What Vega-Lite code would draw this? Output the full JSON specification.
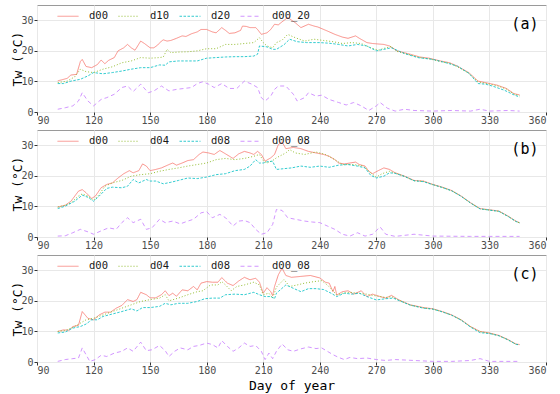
{
"$schema":"https://vega.github.io/schema/vega-lite/v6.json",
"padding":{"left":11,"top":4,"right":3,"bottom":2},
"bounds":"flush",
"spacing":18,
"config":{
 "font":"DejaVu Sans Mono",
 "view":{"stroke":"#9a9a9a","strokeWidth":1},
 "axis":{"labelFont":"DejaVu Sans Mono","labelFontSize":10,"labelColor":"#4d4d4d","titleFont":"DejaVu Sans Mono","titleFontSize":13,"titleFontWeight":"normal","titleColor":"#000000","gridColor":"#e8e8e8","tickColor":"#333333","tickSize":3,"domain":false,"labelPadding":1},
 "axisY":{"titlePadding":-4},
 "axisX":{"titlePadding":4,"labelPadding":0},
 "legend":{"labelFont":"DejaVu Sans Mono","labelFontSize":10.5,"labelColor":"#1a1a1a","symbolType":"stroke","symbolSize":441,"symbolStrokeWidth":1,"labelOffset":10,"columnPadding":8}
},
"datasets":{
"a":[
{"day":101,"series":"d00","tw":10.2},{"day":103,"series":"d00","tw":10.5},{"day":106,"series":"d00","tw":11},{"day":108,"series":"d00","tw":12.1},{"day":111,"series":"d00","tw":12.3},{"day":113,"series":"d00","tw":16.5},{"day":114,"series":"d00","tw":17.2},{"day":116,"series":"d00","tw":14.9},{"day":119,"series":"d00","tw":14.5},{"day":122,"series":"d00","tw":15.5},{"day":124,"series":"d00","tw":17},{"day":126,"series":"d00","tw":15.8},{"day":128,"series":"d00","tw":16.9},{"day":131,"series":"d00","tw":17.8},{"day":133,"series":"d00","tw":20},{"day":136,"series":"d00","tw":21},{"day":138,"series":"d00","tw":22.1},{"day":140,"series":"d00","tw":21},{"day":142,"series":"d00","tw":20.2},{"day":145,"series":"d00","tw":23.2},{"day":147,"series":"d00","tw":22.4},{"day":150,"series":"d00","tw":21},{"day":152,"series":"d00","tw":21},{"day":154,"series":"d00","tw":21.9},{"day":156,"series":"d00","tw":23.2},{"day":157,"series":"d00","tw":23.6},{"day":159,"series":"d00","tw":23.2},{"day":161,"series":"d00","tw":23.4},{"day":164,"series":"d00","tw":24.1},{"day":167,"series":"d00","tw":24.9},{"day":169,"series":"d00","tw":24.7},{"day":172,"series":"d00","tw":25.6},{"day":175,"series":"d00","tw":26.2},{"day":177,"series":"d00","tw":27},{"day":180,"series":"d00","tw":27},{"day":183,"series":"d00","tw":26.2},{"day":185,"series":"d00","tw":25.9},{"day":188,"series":"d00","tw":27.6},{"day":190,"series":"d00","tw":26.7},{"day":192,"series":"d00","tw":25.7},{"day":195,"series":"d00","tw":25.9},{"day":198,"series":"d00","tw":26.7},{"day":199,"series":"d00","tw":28.1},{"day":201,"series":"d00","tw":28},{"day":203,"series":"d00","tw":27.6},{"day":206,"series":"d00","tw":27.6},{"day":207,"series":"d00","tw":27},{"day":209,"series":"d00","tw":25.4},{"day":212,"series":"d00","tw":25.9},{"day":214,"series":"d00","tw":27},{"day":216,"series":"d00","tw":28.7},{"day":218,"series":"d00","tw":28.5},{"day":220,"series":"d00","tw":29.5},{"day":223,"series":"d00","tw":30.9},{"day":227,"series":"d00","tw":29.2},{"day":230,"series":"d00","tw":27.6},{"day":234,"series":"d00","tw":28.7},{"day":237,"series":"d00","tw":28.1},{"day":239,"series":"d00","tw":27.8},{"day":244,"series":"d00","tw":26.5},{"day":248,"series":"d00","tw":25.4},{"day":252,"series":"d00","tw":24.5},{"day":255,"series":"d00","tw":24.1},{"day":259,"series":"d00","tw":24.9},{"day":261,"series":"d00","tw":24.1},{"day":265,"series":"d00","tw":22.7},{"day":268,"series":"d00","tw":22.4},{"day":274,"series":"d00","tw":22.1},{"day":277,"series":"d00","tw":21.6},{"day":281,"series":"d00","tw":20},{"day":288,"series":"d00","tw":18.9},{"day":293,"series":"d00","tw":18},{"day":298,"series":"d00","tw":17.6},{"day":304,"series":"d00","tw":16.7},{"day":309,"series":"d00","tw":16.1},{"day":313,"series":"d00","tw":15},{"day":319,"series":"d00","tw":12.9},{"day":324,"series":"d00","tw":10.1},{"day":328,"series":"d00","tw":9.6},{"day":334,"series":"d00","tw":8.8},{"day":339,"series":"d00","tw":7.7},{"day":343,"series":"d00","tw":6},{"day":346,"series":"d00","tw":5.6},
{"day":101,"series":"d10","tw":9.6},{"day":106,"series":"d10","tw":10.1},{"day":110,"series":"d10","tw":11.5},{"day":113,"series":"d10","tw":14},{"day":116,"series":"d10","tw":13.2},{"day":120,"series":"d10","tw":12.9},{"day":125,"series":"d10","tw":14},{"day":130,"series":"d10","tw":14.8},{"day":135,"series":"d10","tw":16.1},{"day":140,"series":"d10","tw":16.7},{"day":145,"series":"d10","tw":17.8},{"day":150,"series":"d10","tw":17.6},{"day":155,"series":"d10","tw":17.8},{"day":157,"series":"d10","tw":18},{"day":159,"series":"d10","tw":20.5},{"day":161,"series":"d10","tw":19.4},{"day":165,"series":"d10","tw":19.6},{"day":170,"series":"d10","tw":19.7},{"day":175,"series":"d10","tw":20},{"day":180,"series":"d10","tw":20.7},{"day":185,"series":"d10","tw":20.7},{"day":190,"series":"d10","tw":22.1},{"day":195,"series":"d10","tw":22.1},{"day":200,"series":"d10","tw":22.4},{"day":205,"series":"d10","tw":22.7},{"day":208,"series":"d10","tw":24.3},{"day":210,"series":"d10","tw":22.7},{"day":212,"series":"d10","tw":21.6},{"day":215,"series":"d10","tw":21},{"day":217,"series":"d10","tw":22.7},{"day":220,"series":"d10","tw":23.5},{"day":223,"series":"d10","tw":25.4},{"day":227,"series":"d10","tw":24.3},{"day":232,"series":"d10","tw":23.2},{"day":237,"series":"d10","tw":23.8},{"day":242,"series":"d10","tw":23.4},{"day":247,"series":"d10","tw":23},{"day":252,"series":"d10","tw":22.4},{"day":257,"series":"d10","tw":22.7},{"day":262,"series":"d10","tw":22.4},{"day":267,"series":"d10","tw":21},{"day":271,"series":"d10","tw":20.2},{"day":275,"series":"d10","tw":21},{"day":278,"series":"d10","tw":21.4},{"day":281,"series":"d10","tw":19.8},{"day":288,"series":"d10","tw":18.7},{"day":293,"series":"d10","tw":17.8},{"day":298,"series":"d10","tw":17.4},{"day":304,"series":"d10","tw":16.5},{"day":309,"series":"d10","tw":15.9},{"day":313,"series":"d10","tw":14.8},{"day":319,"series":"d10","tw":12.7},{"day":324,"series":"d10","tw":9.8},{"day":328,"series":"d10","tw":9.4},{"day":334,"series":"d10","tw":8.6},{"day":339,"series":"d10","tw":7.5},{"day":343,"series":"d10","tw":5.9},{"day":346,"series":"d10","tw":5.3},
{"day":101,"series":"d20","tw":9.3},{"day":104,"series":"d20","tw":9.3},{"day":108,"series":"d20","tw":10.1},{"day":113,"series":"d20","tw":10.7},{"day":117,"series":"d20","tw":11.8},{"day":120,"series":"d20","tw":12.9},{"day":125,"series":"d20","tw":12.5},{"day":130,"series":"d20","tw":12.9},{"day":135,"series":"d20","tw":13.4},{"day":140,"series":"d20","tw":14},{"day":145,"series":"d20","tw":14.5},{"day":150,"series":"d20","tw":14.5},{"day":155,"series":"d20","tw":15.4},{"day":158,"series":"d20","tw":15.3},{"day":160,"series":"d20","tw":16.4},{"day":165,"series":"d20","tw":16.7},{"day":170,"series":"d20","tw":16.7},{"day":175,"series":"d20","tw":16.7},{"day":180,"series":"d20","tw":17.6},{"day":185,"series":"d20","tw":17.8},{"day":190,"series":"d20","tw":18},{"day":195,"series":"d20","tw":18.1},{"day":200,"series":"d20","tw":18.1},{"day":205,"series":"d20","tw":18.3},{"day":207,"series":"d20","tw":18.9},{"day":208,"series":"d20","tw":21.6},{"day":212,"series":"d20","tw":21.3},{"day":215,"series":"d20","tw":20.5},{"day":217,"series":"d20","tw":20.5},{"day":221,"series":"d20","tw":22},{"day":224,"series":"d20","tw":23.8},{"day":228,"series":"d20","tw":23},{"day":233,"series":"d20","tw":22.7},{"day":240,"series":"d20","tw":22.7},{"day":245,"series":"d20","tw":22.5},{"day":250,"series":"d20","tw":22.1},{"day":255,"series":"d20","tw":21.6},{"day":260,"series":"d20","tw":22.1},{"day":265,"series":"d20","tw":21.6},{"day":270,"series":"d20","tw":20},{"day":274,"series":"d20","tw":20.5},{"day":278,"series":"d20","tw":21},{"day":285,"series":"d20","tw":19.1},{"day":292,"series":"d20","tw":17.8},{"day":300,"series":"d20","tw":17.2},{"day":307,"series":"d20","tw":16.1},{"day":313,"series":"d20","tw":15},{"day":319,"series":"d20","tw":12.7},{"day":324,"series":"d20","tw":9.3},{"day":328,"series":"d20","tw":9.1},{"day":332,"series":"d20","tw":8.4},{"day":338,"series":"d20","tw":7.1},{"day":343,"series":"d20","tw":5.6},{"day":346,"series":"d20","tw":4.9},
{"day":101,"series":"d00_20","tw":0.9},{"day":105,"series":"d00_20","tw":1.4},{"day":109,"series":"d00_20","tw":2},{"day":112,"series":"d00_20","tw":3.6},{"day":114,"series":"d00_20","tw":6.3},{"day":117,"series":"d00_20","tw":3.6},{"day":120,"series":"d00_20","tw":2},{"day":124,"series":"d00_20","tw":4.1},{"day":127,"series":"d00_20","tw":4.7},{"day":131,"series":"d00_20","tw":5.8},{"day":135,"series":"d00_20","tw":8},{"day":138,"series":"d00_20","tw":8.5},{"day":141,"series":"d00_20","tw":6.7},{"day":145,"series":"d00_20","tw":9.1},{"day":149,"series":"d00_20","tw":6.3},{"day":152,"series":"d00_20","tw":6.9},{"day":156,"series":"d00_20","tw":8.5},{"day":160,"series":"d00_20","tw":6.9},{"day":164,"series":"d00_20","tw":7.4},{"day":168,"series":"d00_20","tw":7.7},{"day":172,"series":"d00_20","tw":8},{"day":175,"series":"d00_20","tw":9.3},{"day":178,"series":"d00_20","tw":9.9},{"day":181,"series":"d00_20","tw":9.1},{"day":184,"series":"d00_20","tw":8},{"day":188,"series":"d00_20","tw":9.3},{"day":192,"series":"d00_20","tw":7.7},{"day":196,"series":"d00_20","tw":7.7},{"day":200,"series":"d00_20","tw":10.1},{"day":204,"series":"d00_20","tw":9.1},{"day":207,"series":"d00_20","tw":8},{"day":209,"series":"d00_20","tw":4.7},{"day":211,"series":"d00_20","tw":3.6},{"day":214,"series":"d00_20","tw":5.2},{"day":216,"series":"d00_20","tw":7.4},{"day":218,"series":"d00_20","tw":8.5},{"day":222,"series":"d00_20","tw":8.5},{"day":226,"series":"d00_20","tw":5.8},{"day":228,"series":"d00_20","tw":3.6},{"day":232,"series":"d00_20","tw":4.7},{"day":234,"series":"d00_20","tw":6.3},{"day":238,"series":"d00_20","tw":5.2},{"day":241,"series":"d00_20","tw":5.5},{"day":245,"series":"d00_20","tw":4.1},{"day":250,"series":"d00_20","tw":3.1},{"day":254,"series":"d00_20","tw":2.3},{"day":258,"series":"d00_20","tw":3.1},{"day":262,"series":"d00_20","tw":2},{"day":266,"series":"d00_20","tw":0.5},{"day":270,"series":"d00_20","tw":2},{"day":272,"series":"d00_20","tw":3.1},{"day":276,"series":"d00_20","tw":1.2},{"day":280,"series":"d00_20","tw":0.3},{"day":285,"series":"d00_20","tw":0.9},{"day":290,"series":"d00_20","tw":0.5},{"day":300,"series":"d00_20","tw":0.3},{"day":310,"series":"d00_20","tw":0.5},{"day":320,"series":"d00_20","tw":0.3},{"day":325,"series":"d00_20","tw":0.9},{"day":330,"series":"d00_20","tw":0.3},{"day":340,"series":"d00_20","tw":0.5},{"day":346,"series":"d00_20","tw":0.3}
],
"b":[
{"day":101,"series":"d00","tw":9.8},{"day":105,"series":"d00","tw":10.4},{"day":108,"series":"d00","tw":11.7},{"day":112,"series":"d00","tw":15},{"day":114,"series":"d00","tw":15.5},{"day":116,"series":"d00","tw":14.5},{"day":119,"series":"d00","tw":12.6},{"day":121,"series":"d00","tw":13.4},{"day":124,"series":"d00","tw":16.1},{"day":127,"series":"d00","tw":17.2},{"day":130,"series":"d00","tw":17.7},{"day":133,"series":"d00","tw":19.3},{"day":136,"series":"d00","tw":20.7},{"day":139,"series":"d00","tw":21.7},{"day":141,"series":"d00","tw":21},{"day":144,"series":"d00","tw":21.7},{"day":146,"series":"d00","tw":23.9},{"day":148,"series":"d00","tw":23.2},{"day":150,"series":"d00","tw":21.7},{"day":153,"series":"d00","tw":22.1},{"day":156,"series":"d00","tw":22.6},{"day":160,"series":"d00","tw":23.7},{"day":162,"series":"d00","tw":24.2},{"day":164,"series":"d00","tw":23.5},{"day":167,"series":"d00","tw":24.2},{"day":170,"series":"d00","tw":25},{"day":173,"series":"d00","tw":25.3},{"day":176,"series":"d00","tw":27},{"day":178,"series":"d00","tw":27.8},{"day":181,"series":"d00","tw":27.5},{"day":184,"series":"d00","tw":27},{"day":187,"series":"d00","tw":28.3},{"day":190,"series":"d00","tw":27.2},{"day":194,"series":"d00","tw":25.7},{"day":197,"series":"d00","tw":27.2},{"day":200,"series":"d00","tw":28},{"day":203,"series":"d00","tw":27.5},{"day":205,"series":"d00","tw":27},{"day":207,"series":"d00","tw":28},{"day":209,"series":"d00","tw":27},{"day":211,"series":"d00","tw":24.8},{"day":214,"series":"d00","tw":25.9},{"day":216,"series":"d00","tw":27},{"day":218,"series":"d00","tw":30.2},{"day":220,"series":"d00","tw":31.1},{"day":222,"series":"d00","tw":28.9},{"day":226,"series":"d00","tw":29.3},{"day":230,"series":"d00","tw":28.9},{"day":234,"series":"d00","tw":28},{"day":238,"series":"d00","tw":27.5},{"day":242,"series":"d00","tw":27},{"day":245,"series":"d00","tw":26.4},{"day":248,"series":"d00","tw":25.3},{"day":250,"series":"d00","tw":24.2},{"day":253,"series":"d00","tw":23.9},{"day":256,"series":"d00","tw":24.2},{"day":259,"series":"d00","tw":24.5},{"day":261,"series":"d00","tw":23.7},{"day":264,"series":"d00","tw":23.2},{"day":266,"series":"d00","tw":21.5},{"day":268,"series":"d00","tw":20.7},{"day":271,"series":"d00","tw":21.7},{"day":274,"series":"d00","tw":22.6},{"day":277,"series":"d00","tw":22.1},{"day":280,"series":"d00","tw":21},{"day":285,"series":"d00","tw":19.9},{"day":290,"series":"d00","tw":18.5},{"day":295,"series":"d00","tw":18.3},{"day":300,"series":"d00","tw":17.2},{"day":305,"series":"d00","tw":16.3},{"day":310,"series":"d00","tw":15.2},{"day":315,"series":"d00","tw":13.4},{"day":320,"series":"d00","tw":11.2},{"day":325,"series":"d00","tw":9.3},{"day":330,"series":"d00","tw":8.9},{"day":335,"series":"d00","tw":8.5},{"day":340,"series":"d00","tw":6.8},{"day":344,"series":"d00","tw":5.2},{"day":346,"series":"d00","tw":4.7},
{"day":101,"series":"d04","tw":9.8},{"day":105,"series":"d04","tw":10.4},{"day":108,"series":"d04","tw":11.2},{"day":112,"series":"d04","tw":13.4},{"day":114,"series":"d04","tw":14.1},{"day":117,"series":"d04","tw":13.4},{"day":120,"series":"d04","tw":12},{"day":123,"series":"d04","tw":13.9},{"day":126,"series":"d04","tw":16.6},{"day":130,"series":"d04","tw":17.7},{"day":135,"series":"d04","tw":18.5},{"day":140,"series":"d04","tw":19.9},{"day":145,"series":"d04","tw":20.4},{"day":150,"series":"d04","tw":20.7},{"day":155,"series":"d04","tw":21.5},{"day":160,"series":"d04","tw":22.1},{"day":165,"series":"d04","tw":22.6},{"day":170,"series":"d04","tw":23.2},{"day":175,"series":"d04","tw":23.7},{"day":180,"series":"d04","tw":24.2},{"day":185,"series":"d04","tw":25.3},{"day":190,"series":"d04","tw":25.7},{"day":195,"series":"d04","tw":25.3},{"day":200,"series":"d04","tw":25.7},{"day":205,"series":"d04","tw":26.4},{"day":208,"series":"d04","tw":27},{"day":210,"series":"d04","tw":25},{"day":212,"series":"d04","tw":24.2},{"day":215,"series":"d04","tw":25},{"day":217,"series":"d04","tw":25.9},{"day":222,"series":"d04","tw":27.5},{"day":224,"series":"d04","tw":28.6},{"day":227,"series":"d04","tw":27.5},{"day":232,"series":"d04","tw":27},{"day":238,"series":"d04","tw":27.8},{"day":243,"series":"d04","tw":27},{"day":248,"series":"d04","tw":25.3},{"day":252,"series":"d04","tw":23.7},{"day":258,"series":"d04","tw":23.7},{"day":263,"series":"d04","tw":23.2},{"day":267,"series":"d04","tw":21},{"day":270,"series":"d04","tw":19.6},{"day":273,"series":"d04","tw":20.7},{"day":277,"series":"d04","tw":21.5},{"day":280,"series":"d04","tw":20.9},{"day":285,"series":"d04","tw":19.8},{"day":290,"series":"d04","tw":18.4},{"day":295,"series":"d04","tw":18.2},{"day":300,"series":"d04","tw":17.1},{"day":305,"series":"d04","tw":16.2},{"day":310,"series":"d04","tw":15.1},{"day":315,"series":"d04","tw":13.3},{"day":320,"series":"d04","tw":11.1},{"day":325,"series":"d04","tw":9.2},{"day":330,"series":"d04","tw":8.8},{"day":335,"series":"d04","tw":8.4},{"day":340,"series":"d04","tw":6.7},{"day":344,"series":"d04","tw":5.1},{"day":346,"series":"d04","tw":4.6},
{"day":101,"series":"d08","tw":9.3},{"day":105,"series":"d08","tw":10.1},{"day":110,"series":"d08","tw":11.7},{"day":114,"series":"d08","tw":13.7},{"day":117,"series":"d08","tw":13},{"day":120,"series":"d08","tw":11.7},{"day":123,"series":"d08","tw":13.4},{"day":127,"series":"d08","tw":15.9},{"day":130,"series":"d08","tw":16.3},{"day":135,"series":"d08","tw":16.1},{"day":138,"series":"d08","tw":16.6},{"day":141,"series":"d08","tw":18.8},{"day":144,"series":"d08","tw":17.7},{"day":148,"series":"d08","tw":18.8},{"day":150,"series":"d08","tw":18.3},{"day":153,"series":"d08","tw":18.3},{"day":157,"series":"d08","tw":17.4},{"day":161,"series":"d08","tw":17.9},{"day":165,"series":"d08","tw":18.5},{"day":170,"series":"d08","tw":19.3},{"day":175,"series":"d08","tw":19.1},{"day":180,"series":"d08","tw":19.6},{"day":185,"series":"d08","tw":20.4},{"day":190,"series":"d08","tw":20.7},{"day":195,"series":"d08","tw":21.7},{"day":200,"series":"d08","tw":22.1},{"day":203,"series":"d08","tw":23.2},{"day":206,"series":"d08","tw":25.3},{"day":208,"series":"d08","tw":24.2},{"day":210,"series":"d08","tw":24.2},{"day":212,"series":"d08","tw":24.6},{"day":215,"series":"d08","tw":24.8},{"day":217,"series":"d08","tw":22.1},{"day":225,"series":"d08","tw":22.6},{"day":230,"series":"d08","tw":23.2},{"day":235,"series":"d08","tw":22.8},{"day":240,"series":"d08","tw":23.2},{"day":245,"series":"d08","tw":22.8},{"day":250,"series":"d08","tw":23.5},{"day":255,"series":"d08","tw":23.7},{"day":260,"series":"d08","tw":23.2},{"day":264,"series":"d08","tw":22.6},{"day":267,"series":"d08","tw":20.2},{"day":270,"series":"d08","tw":19.3},{"day":274,"series":"d08","tw":19.9},{"day":277,"series":"d08","tw":21},{"day":280,"series":"d08","tw":20.8},{"day":285,"series":"d08","tw":19.8},{"day":290,"series":"d08","tw":18.4},{"day":295,"series":"d08","tw":18.1},{"day":300,"series":"d08","tw":17.1},{"day":305,"series":"d08","tw":16.2},{"day":310,"series":"d08","tw":15.1},{"day":315,"series":"d08","tw":13.3},{"day":320,"series":"d08","tw":11.1},{"day":325,"series":"d08","tw":9.2},{"day":330,"series":"d08","tw":8.8},{"day":335,"series":"d08","tw":8.4},{"day":340,"series":"d08","tw":6.7},{"day":344,"series":"d08","tw":5.1},{"day":346,"series":"d08","tw":4.6},
{"day":101,"series":"d00_08","tw":0.3},{"day":105,"series":"d00_08","tw":0.4},{"day":109,"series":"d00_08","tw":1.4},{"day":113,"series":"d00_08","tw":2.5},{"day":117,"series":"d00_08","tw":1.7},{"day":120,"series":"d00_08","tw":0.9},{"day":124,"series":"d00_08","tw":2},{"day":128,"series":"d00_08","tw":3},{"day":132,"series":"d00_08","tw":2.5},{"day":135,"series":"d00_08","tw":4.7},{"day":138,"series":"d00_08","tw":6.3},{"day":141,"series":"d00_08","tw":4.7},{"day":145,"series":"d00_08","tw":5.8},{"day":148,"series":"d00_08","tw":2.5},{"day":151,"series":"d00_08","tw":3},{"day":155,"series":"d00_08","tw":5.8},{"day":158,"series":"d00_08","tw":4.7},{"day":162,"series":"d00_08","tw":5.2},{"day":166,"series":"d00_08","tw":4.3},{"day":170,"series":"d00_08","tw":5.2},{"day":173,"series":"d00_08","tw":5.8},{"day":177,"series":"d00_08","tw":7.9},{"day":180,"series":"d00_08","tw":8.3},{"day":183,"series":"d00_08","tw":6.3},{"day":187,"series":"d00_08","tw":7.4},{"day":190,"series":"d00_08","tw":6.3},{"day":194,"series":"d00_08","tw":3.6},{"day":197,"series":"d00_08","tw":5.2},{"day":200,"series":"d00_08","tw":5.4},{"day":203,"series":"d00_08","tw":4.7},{"day":206,"series":"d00_08","tw":2.5},{"day":209,"series":"d00_08","tw":0.9},{"day":212,"series":"d00_08","tw":1.4},{"day":215,"series":"d00_08","tw":4.1},{"day":217,"series":"d00_08","tw":9},{"day":220,"series":"d00_08","tw":8.7},{"day":223,"series":"d00_08","tw":6.3},{"day":227,"series":"d00_08","tw":5.8},{"day":232,"series":"d00_08","tw":5.2},{"day":236,"series":"d00_08","tw":4.9},{"day":240,"series":"d00_08","tw":4.7},{"day":244,"series":"d00_08","tw":3.6},{"day":248,"series":"d00_08","tw":2.5},{"day":252,"series":"d00_08","tw":0.9},{"day":256,"series":"d00_08","tw":0.3},{"day":260,"series":"d00_08","tw":1.4},{"day":264,"series":"d00_08","tw":0.3},{"day":268,"series":"d00_08","tw":0.9},{"day":272,"series":"d00_08","tw":3.3},{"day":275,"series":"d00_08","tw":0.9},{"day":280,"series":"d00_08","tw":0.2},{"day":290,"series":"d00_08","tw":0.9},{"day":300,"series":"d00_08","tw":0.3},{"day":320,"series":"d00_08","tw":0.2},{"day":346,"series":"d00_08","tw":0.2}
],
"c":[
{"day":101,"series":"d00","tw":10},{"day":104,"series":"d00","tw":10.5},{"day":107,"series":"d00","tw":10.4},{"day":109,"series":"d00","tw":11.6},{"day":112,"series":"d00","tw":12},{"day":114,"series":"d00","tw":16.5},{"day":117,"series":"d00","tw":14.3},{"day":120,"series":"d00","tw":13.8},{"day":123,"series":"d00","tw":15.4},{"day":126,"series":"d00","tw":16.3},{"day":129,"series":"d00","tw":16.3},{"day":132,"series":"d00","tw":17.6},{"day":135,"series":"d00","tw":18.5},{"day":138,"series":"d00","tw":20.4},{"day":141,"series":"d00","tw":19.8},{"day":143,"series":"d00","tw":20.4},{"day":145,"series":"d00","tw":22.8},{"day":148,"series":"d00","tw":22},{"day":150,"series":"d00","tw":21},{"day":153,"series":"d00","tw":21},{"day":156,"series":"d00","tw":22},{"day":158,"series":"d00","tw":23.3},{"day":160,"series":"d00","tw":21.7},{"day":162,"series":"d00","tw":22.5},{"day":164,"series":"d00","tw":21.5},{"day":167,"series":"d00","tw":23.6},{"day":170,"series":"d00","tw":23.3},{"day":173,"series":"d00","tw":24.7},{"day":175,"series":"d00","tw":23.6},{"day":177,"series":"d00","tw":25.8},{"day":180,"series":"d00","tw":26.3},{"day":183,"series":"d00","tw":26.1},{"day":186,"series":"d00","tw":26.1},{"day":188,"series":"d00","tw":27.6},{"day":191,"series":"d00","tw":25.8},{"day":194,"series":"d00","tw":25},{"day":197,"series":"d00","tw":26.5},{"day":200,"series":"d00","tw":27.7},{"day":203,"series":"d00","tw":26.9},{"day":206,"series":"d00","tw":27.4},{"day":208,"series":"d00","tw":26.1},{"day":210,"series":"d00","tw":22.5},{"day":212,"series":"d00","tw":24.3},{"day":214,"series":"d00","tw":23},{"day":215,"series":"d00","tw":21.7},{"day":216,"series":"d00","tw":24.7},{"day":218,"series":"d00","tw":28.5},{"day":220,"series":"d00","tw":30.7},{"day":222,"series":"d00","tw":28.3},{"day":225,"series":"d00","tw":27.7},{"day":230,"series":"d00","tw":28},{"day":235,"series":"d00","tw":28.3},{"day":240,"series":"d00","tw":27.5},{"day":243,"series":"d00","tw":26.1},{"day":245,"series":"d00","tw":25.8},{"day":247,"series":"d00","tw":23},{"day":248,"series":"d00","tw":24.7},{"day":249,"series":"d00","tw":21.9},{"day":252,"series":"d00","tw":23},{"day":255,"series":"d00","tw":23.3},{"day":258,"series":"d00","tw":22.2},{"day":262,"series":"d00","tw":23.3},{"day":265,"series":"d00","tw":21.4},{"day":268,"series":"d00","tw":22.2},{"day":272,"series":"d00","tw":21.4},{"day":275,"series":"d00","tw":20.9},{"day":278,"series":"d00","tw":21.8},{"day":282,"series":"d00","tw":20.3},{"day":288,"series":"d00","tw":18.7},{"day":295,"series":"d00","tw":17.8},{"day":300,"series":"d00","tw":17.4},{"day":305,"series":"d00","tw":16.5},{"day":310,"series":"d00","tw":15.4},{"day":315,"series":"d00","tw":13.8},{"day":320,"series":"d00","tw":11.6},{"day":325,"series":"d00","tw":10},{"day":330,"series":"d00","tw":9.5},{"day":335,"series":"d00","tw":8.7},{"day":340,"series":"d00","tw":7.3},{"day":344,"series":"d00","tw":5.9},{"day":346,"series":"d00","tw":5.7},
{"day":101,"series":"d04","tw":10},{"day":105,"series":"d04","tw":10.3},{"day":109,"series":"d04","tw":11.3},{"day":113,"series":"d04","tw":12.7},{"day":116,"series":"d04","tw":13.8},{"day":120,"series":"d04","tw":14.3},{"day":125,"series":"d04","tw":15.4},{"day":130,"series":"d04","tw":16.5},{"day":135,"series":"d04","tw":17.6},{"day":140,"series":"d04","tw":18.7},{"day":145,"series":"d04","tw":19.8},{"day":150,"series":"d04","tw":20.4},{"day":155,"series":"d04","tw":20.9},{"day":158,"series":"d04","tw":22},{"day":160,"series":"d04","tw":20},{"day":165,"series":"d04","tw":20.9},{"day":170,"series":"d04","tw":22},{"day":175,"series":"d04","tw":23},{"day":178,"series":"d04","tw":23.3},{"day":182,"series":"d04","tw":25.2},{"day":186,"series":"d04","tw":25.2},{"day":188,"series":"d04","tw":26.3},{"day":190,"series":"d04","tw":25.2},{"day":193,"series":"d04","tw":23.3},{"day":196,"series":"d04","tw":24.7},{"day":200,"series":"d04","tw":25.2},{"day":205,"series":"d04","tw":26.1},{"day":208,"series":"d04","tw":25.2},{"day":210,"series":"d04","tw":22},{"day":213,"series":"d04","tw":22.5},{"day":215,"series":"d04","tw":20.9},{"day":217,"series":"d04","tw":24.5},{"day":221,"series":"d04","tw":27},{"day":224,"series":"d04","tw":24.7},{"day":228,"series":"d04","tw":25.2},{"day":232,"series":"d04","tw":25.8},{"day":237,"series":"d04","tw":26.3},{"day":241,"series":"d04","tw":26.6},{"day":244,"series":"d04","tw":25.2},{"day":247,"series":"d04","tw":23.3},{"day":249,"series":"d04","tw":21.9},{"day":252,"series":"d04","tw":22.5},{"day":256,"series":"d04","tw":22.8},{"day":260,"series":"d04","tw":22.5},{"day":265,"series":"d04","tw":22.2},{"day":268,"series":"d04","tw":21.8},{"day":275,"series":"d04","tw":21.1},{"day":278,"series":"d04","tw":21.4},{"day":282,"series":"d04","tw":20.2},{"day":288,"series":"d04","tw":18.6},{"day":295,"series":"d04","tw":17.7},{"day":300,"series":"d04","tw":17.3},{"day":305,"series":"d04","tw":16.4},{"day":310,"series":"d04","tw":15.3},{"day":315,"series":"d04","tw":13.7},{"day":320,"series":"d04","tw":11.5},{"day":325,"series":"d04","tw":9.9},{"day":330,"series":"d04","tw":9.4},{"day":335,"series":"d04","tw":8.6},{"day":340,"series":"d04","tw":7.2},{"day":344,"series":"d04","tw":5.8},{"day":346,"series":"d04","tw":5.6},
{"day":101,"series":"d08","tw":9.5},{"day":105,"series":"d08","tw":9.8},{"day":109,"series":"d08","tw":11.1},{"day":113,"series":"d08","tw":11.6},{"day":116,"series":"d08","tw":12.4},{"day":119,"series":"d08","tw":13.8},{"day":122,"series":"d08","tw":13.8},{"day":125,"series":"d08","tw":14.9},{"day":130,"series":"d08","tw":15.7},{"day":135,"series":"d08","tw":16.5},{"day":140,"series":"d08","tw":17.4},{"day":143,"series":"d08","tw":16.7},{"day":146,"series":"d08","tw":17.8},{"day":150,"series":"d08","tw":17.8},{"day":155,"series":"d08","tw":18.2},{"day":158,"series":"d08","tw":19.2},{"day":161,"series":"d08","tw":18.7},{"day":165,"series":"d08","tw":19.2},{"day":170,"series":"d08","tw":19.2},{"day":175,"series":"d08","tw":19.8},{"day":179,"series":"d08","tw":20.7},{"day":183,"series":"d08","tw":20.9},{"day":187,"series":"d08","tw":20.9},{"day":190,"series":"d08","tw":22},{"day":195,"series":"d08","tw":22.2},{"day":200,"series":"d08","tw":22},{"day":205,"series":"d08","tw":22.8},{"day":208,"series":"d08","tw":22},{"day":211,"series":"d08","tw":21.4},{"day":214,"series":"d08","tw":21.4},{"day":216,"series":"d08","tw":20.7},{"day":217,"series":"d08","tw":22.5},{"day":222,"series":"d08","tw":25.2},{"day":226,"series":"d08","tw":24.1},{"day":230,"series":"d08","tw":23},{"day":234,"series":"d08","tw":24},{"day":238,"series":"d08","tw":24},{"day":242,"series":"d08","tw":23.7},{"day":246,"series":"d08","tw":22.5},{"day":249,"series":"d08","tw":21.4},{"day":253,"series":"d08","tw":22.5},{"day":257,"series":"d08","tw":22.2},{"day":261,"series":"d08","tw":22.5},{"day":265,"series":"d08","tw":21.4},{"day":270,"series":"d08","tw":20.3},{"day":275,"series":"d08","tw":20.7},{"day":279,"series":"d08","tw":20.9},{"day":282,"series":"d08","tw":20.1},{"day":288,"series":"d08","tw":18.6},{"day":295,"series":"d08","tw":17.6},{"day":300,"series":"d08","tw":17.3},{"day":305,"series":"d08","tw":16.4},{"day":310,"series":"d08","tw":15.3},{"day":315,"series":"d08","tw":13.7},{"day":320,"series":"d08","tw":11.4},{"day":325,"series":"d08","tw":9.6},{"day":330,"series":"d08","tw":9.3},{"day":335,"series":"d08","tw":8.6},{"day":340,"series":"d08","tw":7.2},{"day":344,"series":"d08","tw":5.8},{"day":346,"series":"d08","tw":5.6},
{"day":101,"series":"d00_08","tw":0.2},{"day":105,"series":"d00_08","tw":0.8},{"day":109,"series":"d00_08","tw":1.1},{"day":112,"series":"d00_08","tw":1.3},{"day":114,"series":"d00_08","tw":4.6},{"day":116,"series":"d00_08","tw":2.4},{"day":118,"series":"d00_08","tw":0.2},{"day":121,"series":"d00_08","tw":0.8},{"day":124,"series":"d00_08","tw":2.2},{"day":127,"series":"d00_08","tw":1.8},{"day":131,"series":"d00_08","tw":2.9},{"day":135,"series":"d00_08","tw":3.5},{"day":138,"series":"d00_08","tw":4.6},{"day":141,"series":"d00_08","tw":3.5},{"day":145,"series":"d00_08","tw":6.5},{"day":148,"series":"d00_08","tw":3.7},{"day":151,"series":"d00_08","tw":4},{"day":155,"series":"d00_08","tw":5.4},{"day":158,"series":"d00_08","tw":3.7},{"day":160,"series":"d00_08","tw":1.8},{"day":163,"series":"d00_08","tw":3.5},{"day":166,"series":"d00_08","tw":4.6},{"day":170,"series":"d00_08","tw":4},{"day":173,"series":"d00_08","tw":5.1},{"day":176,"series":"d00_08","tw":5.4},{"day":180,"series":"d00_08","tw":6.2},{"day":183,"series":"d00_08","tw":5.7},{"day":186,"series":"d00_08","tw":4.6},{"day":188,"series":"d00_08","tw":7},{"day":191,"series":"d00_08","tw":5.1},{"day":194,"series":"d00_08","tw":3.5},{"day":197,"series":"d00_08","tw":4.6},{"day":200,"series":"d00_08","tw":6.2},{"day":203,"series":"d00_08","tw":5.1},{"day":206,"series":"d00_08","tw":5.4},{"day":209,"series":"d00_08","tw":3.5},{"day":211,"series":"d00_08","tw":0.8},{"day":213,"series":"d00_08","tw":2.9},{"day":215,"series":"d00_08","tw":1.1},{"day":217,"series":"d00_08","tw":3.5},{"day":220,"series":"d00_08","tw":5.9},{"day":223,"series":"d00_08","tw":4},{"day":226,"series":"d00_08","tw":3.5},{"day":230,"series":"d00_08","tw":4.3},{"day":234,"series":"d00_08","tw":4.9},{"day":238,"series":"d00_08","tw":4.4},{"day":241,"series":"d00_08","tw":4.6},{"day":244,"series":"d00_08","tw":3.5},{"day":247,"series":"d00_08","tw":2.4},{"day":250,"series":"d00_08","tw":1.5},{"day":253,"series":"d00_08","tw":0.8},{"day":256,"series":"d00_08","tw":1.5},{"day":260,"series":"d00_08","tw":1.1},{"day":265,"series":"d00_08","tw":1.3},{"day":270,"series":"d00_08","tw":0.8},{"day":275,"series":"d00_08","tw":0.5},{"day":280,"series":"d00_08","tw":0.8},{"day":290,"series":"d00_08","tw":0.5},{"day":300,"series":"d00_08","tw":0.2},{"day":310,"series":"d00_08","tw":0.2},{"day":320,"series":"d00_08","tw":0.5},{"day":325,"series":"d00_08","tw":1.1},{"day":330,"series":"d00_08","tw":0.2},{"day":346,"series":"d00_08","tw":0.2}
]
},
"vconcat":[
{"width":509,"height":107,
 "layer":[
  {"data":{"name":"a"},"mark":{"type":"line","strokeWidth":1,"opacity":0.8},
   "encoding":{
    "x":{"field":"day","type":"quantitative","scale":{"domain":[90,360],"nice":false,"zero":false},"axis":{"values":[90,120,150,180,210,240,270,300,330,360],"title":null}},
    "y":{"field":"tw","type":"quantitative","scale":{"domain":[0,35],"nice":false},"axis":{"values":[0,10,20,30],"title":"Tw (°C)"}},
    "color":{"field":"series","type":"nominal","scale":{"domain":["d00","d10","d20","d00_20"],"range":["#F8766D","#7CAE00","#00BFC4","#C77CFF"]},"legend":{"orient":"none","legendX":20,"legendY":0,"direction":"horizontal","title":null}},
    "strokeDash":{"field":"series","type":"nominal","scale":{"domain":["d00","d10","d20","d00_20"],"range":[[1,0],[1,2],[2.5,1.5],[4,3]]},"legend":{"orient":"none","legendX":20,"legendY":0,"direction":"horizontal","title":null}}
   }},
  {"data":{"values":[{"day":356,"tw":28.7,"label":"(a)"}]},"mark":{"type":"text","align":"right","baseline":"middle","fontSize":15,"font":"DejaVu Sans Mono","color":"#000000"},
   "encoding":{
    "x":{"field":"day","type":"quantitative","axis":{"orient":"top","values":[105,135,165,195,225,255,285,315,345],"labels":false,"ticks":false,"domain":false,"title":null,"gridColor":"#f3f3f3"}},
    "y":{"field":"tw","type":"quantitative","axis":{"orient":"right","values":[5,15,25],"labels":false,"ticks":false,"domain":false,"title":null,"gridColor":"#f3f3f3"}},
    "text":{"field":"label"}
   }}
 ],
 "resolve":{"axis":{"x":"independent","y":"independent"}}
},
{"width":509,"height":107,
 "layer":[
  {"data":{"name":"b"},"mark":{"type":"line","strokeWidth":1,"opacity":0.8},
   "encoding":{
    "x":{"field":"day","type":"quantitative","scale":{"domain":[90,360],"nice":false,"zero":false},"axis":{"values":[90,120,150,180,210,240,270,300,330,360],"title":null}},
    "y":{"field":"tw","type":"quantitative","scale":{"domain":[0,35],"nice":false},"axis":{"values":[0,10,20,30],"title":"Tw (°C)"}},
    "color":{"field":"series","type":"nominal","scale":{"domain":["d00","d04","d08","d00_08"],"range":["#F8766D","#7CAE00","#00BFC4","#C77CFF"]},"legend":{"orient":"none","legendX":20,"legendY":0,"direction":"horizontal","title":null}},
    "strokeDash":{"field":"series","type":"nominal","scale":{"domain":["d00","d04","d08","d00_08"],"range":[[1,0],[1,2],[2.5,1.5],[4,3]]},"legend":{"orient":"none","legendX":20,"legendY":0,"direction":"horizontal","title":null}}
   }},
  {"data":{"values":[{"day":356,"tw":28.7,"label":"(b)"}]},"mark":{"type":"text","align":"right","baseline":"middle","fontSize":15,"font":"DejaVu Sans Mono","color":"#000000"},
   "encoding":{
    "x":{"field":"day","type":"quantitative","axis":{"orient":"top","values":[105,135,165,195,225,255,285,315,345],"labels":false,"ticks":false,"domain":false,"title":null,"gridColor":"#f3f3f3"}},
    "y":{"field":"tw","type":"quantitative","axis":{"orient":"right","values":[5,15,25],"labels":false,"ticks":false,"domain":false,"title":null,"gridColor":"#f3f3f3"}},
    "text":{"field":"label"}
   }}
 ],
 "resolve":{"axis":{"x":"independent","y":"independent"}}
},
{"width":509,"height":107,
 "layer":[
  {"data":{"name":"c"},"mark":{"type":"line","strokeWidth":1,"opacity":0.8},
   "encoding":{
    "x":{"field":"day","type":"quantitative","scale":{"domain":[90,360],"nice":false,"zero":false},"axis":{"values":[90,120,150,180,210,240,270,300,330,360],"title":"Day of year"}},
    "y":{"field":"tw","type":"quantitative","scale":{"domain":[0,35],"nice":false},"axis":{"values":[0,10,20,30],"title":"Tw (°C)"}},
    "color":{"field":"series","type":"nominal","scale":{"domain":["d00","d04","d08","d00_08"],"range":["#F8766D","#7CAE00","#00BFC4","#C77CFF"]},"legend":{"orient":"none","legendX":20,"legendY":0,"direction":"horizontal","title":null}},
    "strokeDash":{"field":"series","type":"nominal","scale":{"domain":["d00","d04","d08","d00_08"],"range":[[1,0],[1,2],[2.5,1.5],[4,3]]},"legend":{"orient":"none","legendX":20,"legendY":0,"direction":"horizontal","title":null}}
   }},
  {"data":{"values":[{"day":356,"tw":28.7,"label":"(c)"}]},"mark":{"type":"text","align":"right","baseline":"middle","fontSize":15,"font":"DejaVu Sans Mono","color":"#000000"},
   "encoding":{
    "x":{"field":"day","type":"quantitative","axis":{"orient":"top","values":[105,135,165,195,225,255,285,315,345],"labels":false,"ticks":false,"domain":false,"title":null,"gridColor":"#f3f3f3"}},
    "y":{"field":"tw","type":"quantitative","axis":{"orient":"right","values":[5,15,25],"labels":false,"ticks":false,"domain":false,"title":null,"gridColor":"#f3f3f3"}},
    "text":{"field":"label"}
   }}
 ],
 "resolve":{"axis":{"x":"independent","y":"independent"}}
}
],
"resolve":{"scale":{"color":"independent","strokeDash":"independent"},"legend":{"color":"independent","strokeDash":"independent"}}
}
